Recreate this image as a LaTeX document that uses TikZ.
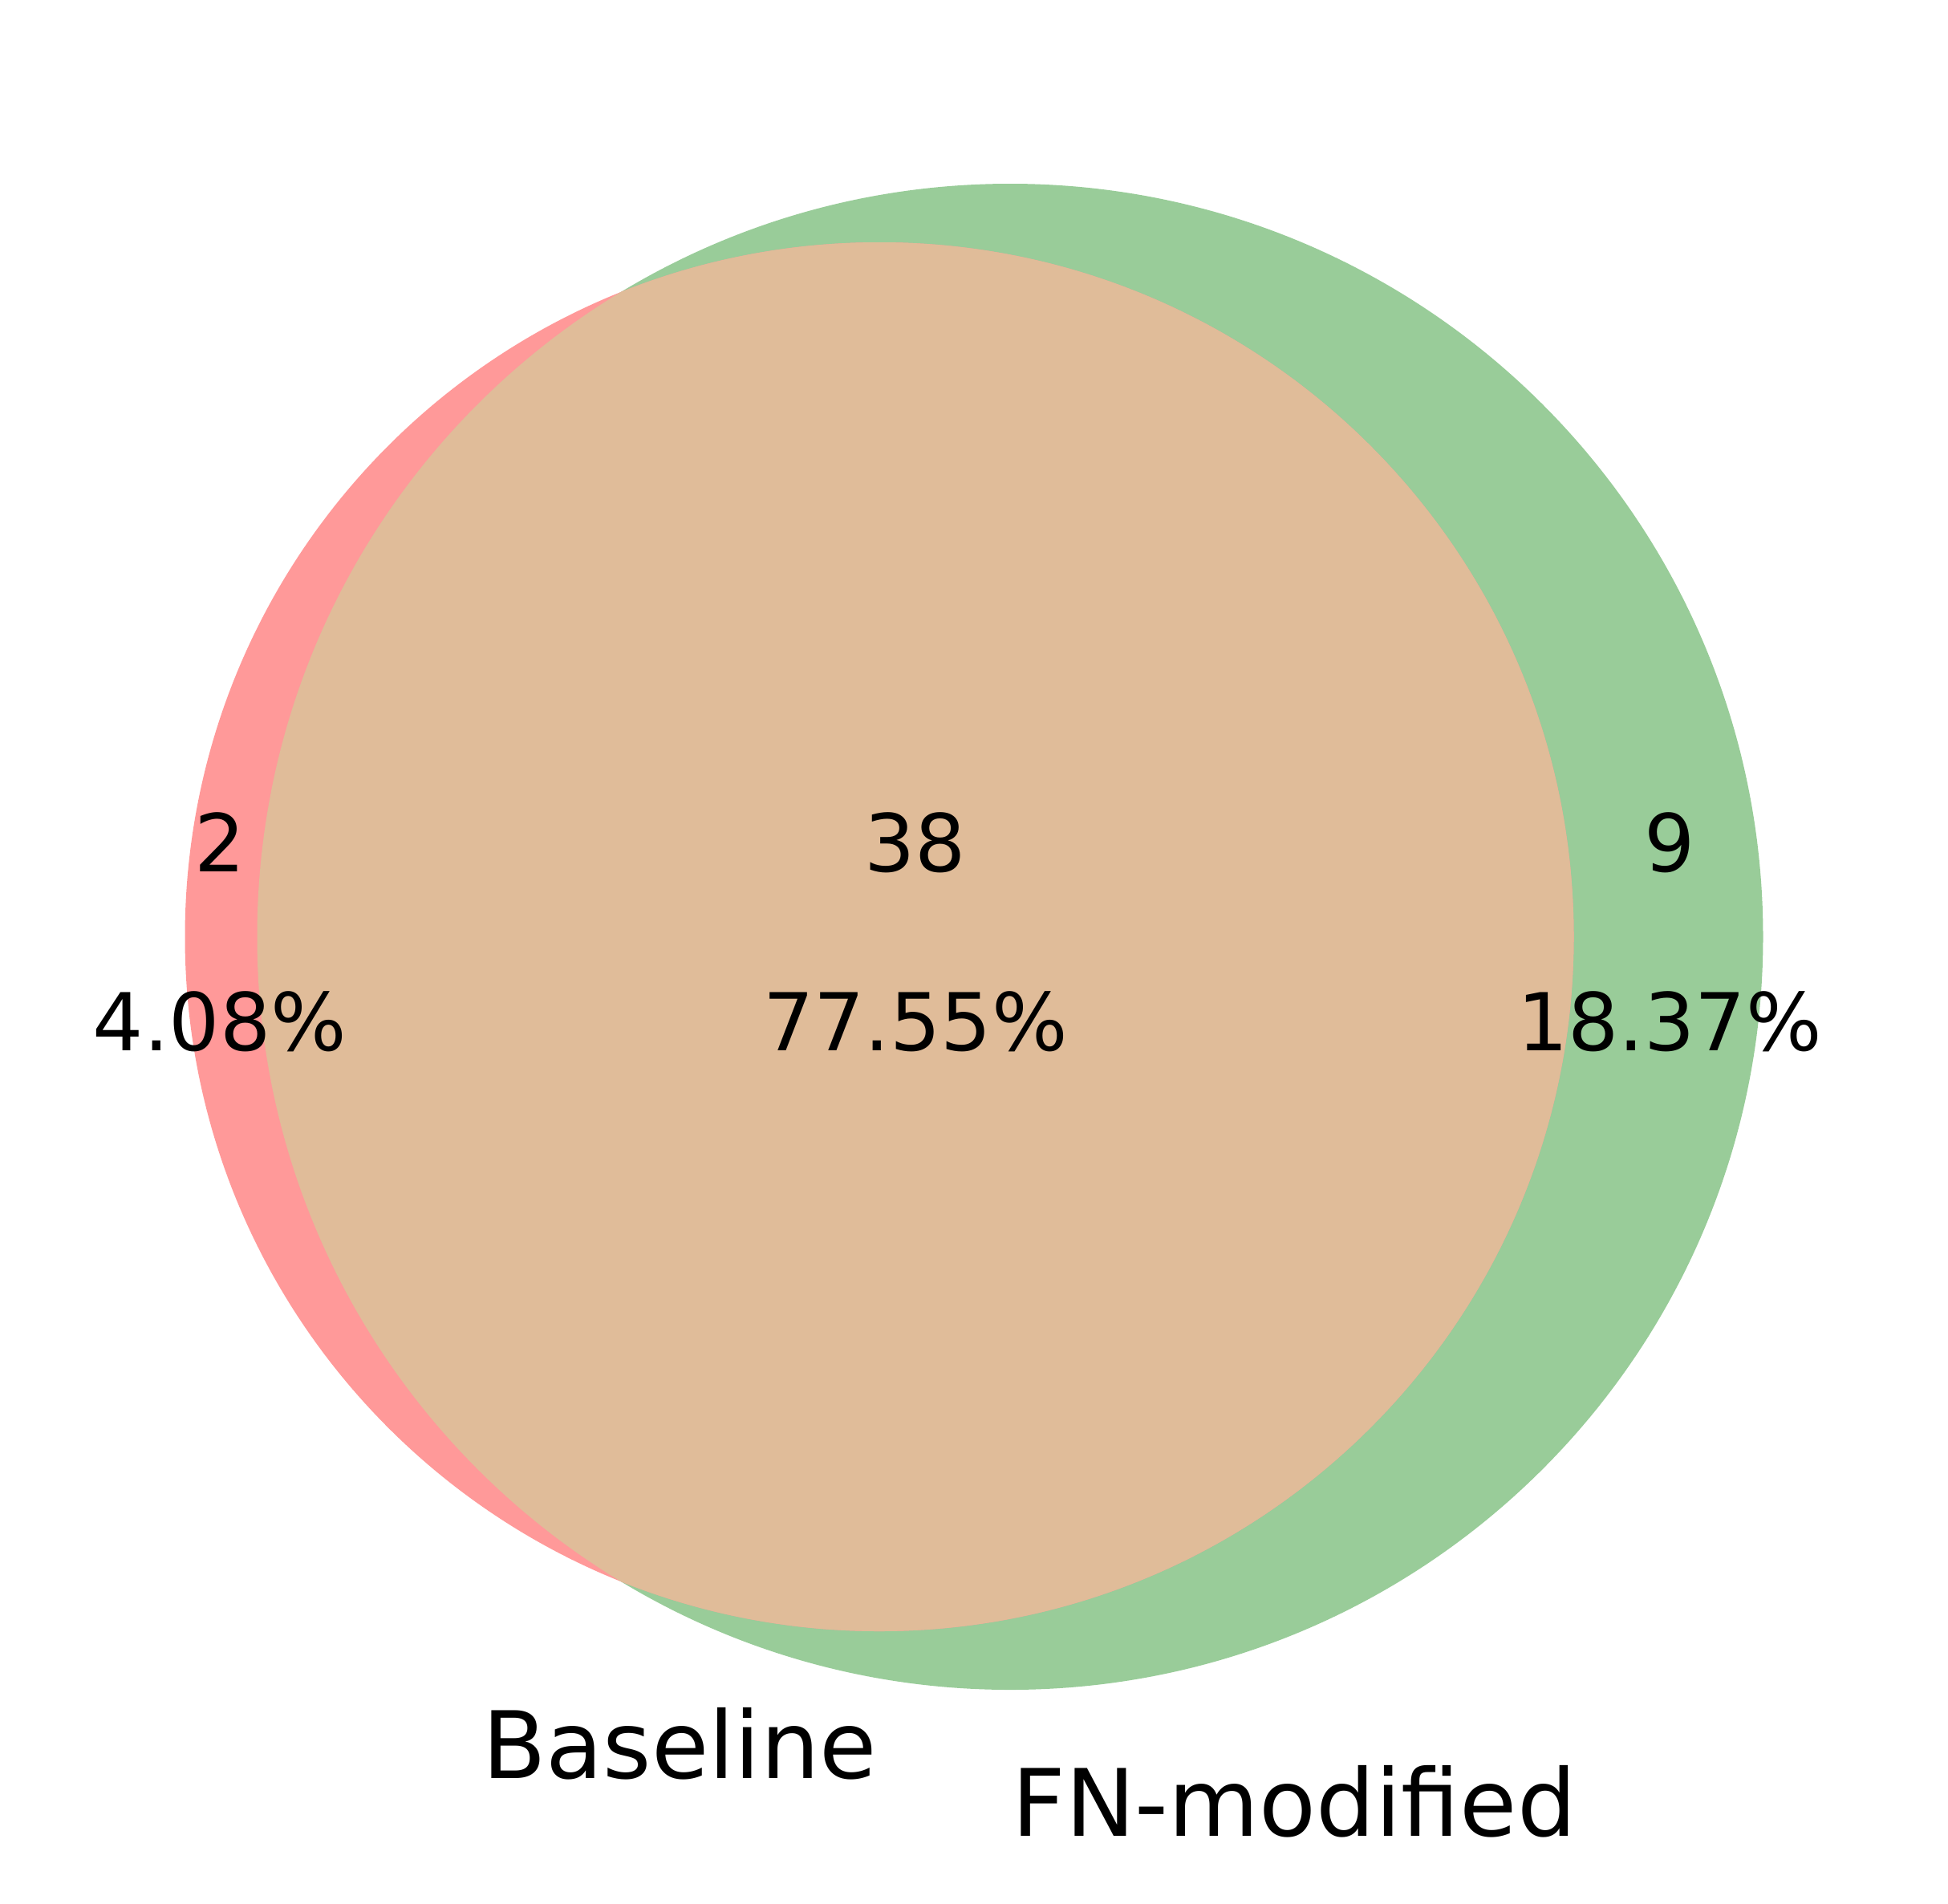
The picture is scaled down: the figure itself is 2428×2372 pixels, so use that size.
\documentclass[tikz,border=0pt]{standalone}
\usepackage{fontspec}
\setmainfont{DejaVu Sans}
\definecolor{redonly}{RGB}{255,153,153}
\definecolor{greenonly}{RGB}{153,204,153}
\definecolor{both}{RGB}{224,188,153}
\tikzset{
  num/.style={anchor=base, inner sep=0pt, font=\fontsize{99.5}{110}\selectfont},
  setlabel/.style={anchor=base, inner sep=0pt, font=\fontsize{116}{130}\selectfont}
}
\begin{document}
\begin{tikzpicture}[x=1pt,y=-1pt]
\useasboundingbox (0,0) rectangle (2428,2372);
\fill[greenonly] (1259,1167.5) circle[radius=938.5];
\fill[redonly] (1096,1167.5) circle[radius=865.5];
\begin{scope}
  \clip (1259,1167.5) circle[radius=938.5];
  \fill[both] (1096,1167.5) circle[radius=865.5];
\end{scope}
\node[num] (a) at (274,1086) {2};
\node[num] (ap) at (274,1309) {4.08\%};
\node[num] (ab) at (1141,1086) {38};
\node[num] (abp) at (1141,1309) {77.55\%};
\node[num] (b) at (2081,1086) {9};
\node[num] (bp) at (2081,1309) {18.37\%};
\node[setlabel] (la) at (847,2216) {Baseline};
\node[setlabel] (lb) at (1613,2288) {FN-modified};
\end{tikzpicture}
\end{document}
